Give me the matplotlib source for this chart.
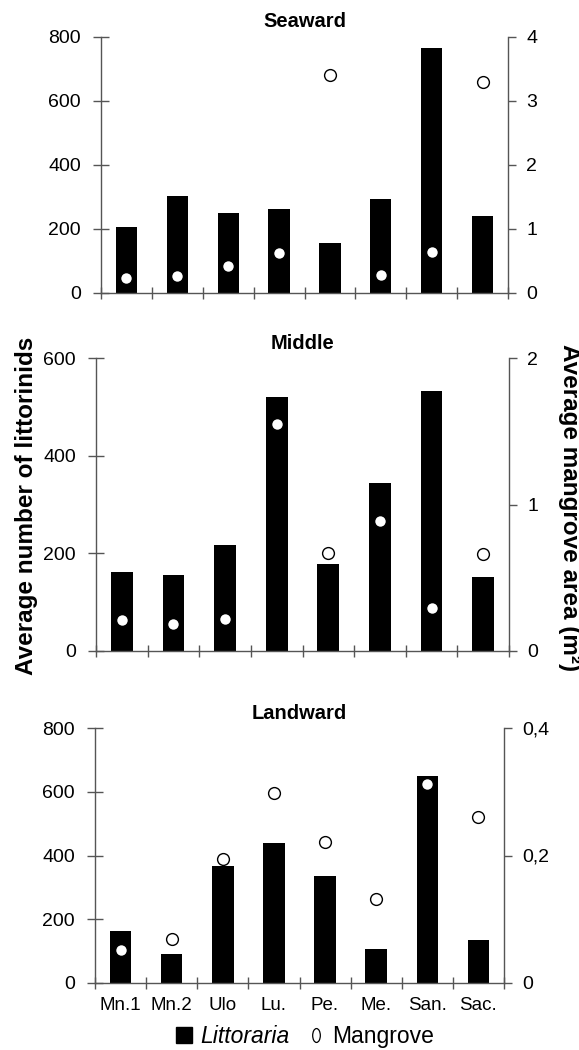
import numpy as np
import matplotlib
matplotlib.use("Agg")
import matplotlib.pyplot as plt
from matplotlib.patches import Patch
from matplotlib.lines import Line2D
from matplotlib.path import Path
from matplotlib.transforms import Affine2D

plt.rcParams['font.family'] = ['Liberation Sans', 'DejaVu Sans']

sites = ["Mn.1", "Mn.2", "Ulo", "Lu.", "Pe.", "Me.", "San.", "Sac."]

# littorinid counts (left axis) and mangrove area (right axis)
seaward_snails = [207, 304, 251, 263, 157, 293, 765, 239]
seaward_area = [0.24, 0.26, 0.42, 0.62, 3.41, 0.28, 0.64, 3.29]
middle_snails = [161, 156, 217, 521, 177, 344, 533, 151]
middle_area = [0.21, 0.18, 0.22, 1.55, 0.67, 0.89, 0.29, 0.66]
landward_snails = [164, 89, 367, 439, 336, 105, 650, 135]
landward_area = [0.052, 0.069, 0.195, 0.298, 0.222, 0.131, 0.313, 0.260]

panel_titles = ["Seaward", "Middle", "Landward"]
left_ticks = [[0, 200, 400, 600, 800], [0, 200, 400, 600], [0, 200, 400, 600, 800]]
right_ticks = [[0, 1, 2, 3, 4], [0, 1, 2], [0, 0.2, 0.4]]
right_labels = [["0", "1", "2", "3", "4"], ["0", "1", "2"], ["0", "0,2", "0,4"]]

W, H = 579, 1050
fig = plt.figure(figsize=(W / 100, H / 100), dpi=100)

# axes boxes in pixels: left, right, top, bottom
boxes = [(101, 508, 36.7, 293), (96, 509, 358.3, 650.7), (95, 504, 728.3, 982.7)]
snails = [seaward_snails, middle_snails, landward_snails]
areas = [seaward_area, middle_area, landward_area]

axcol = "#555555"
x = np.arange(len(sites))

for i in range(3):
    l, r, t, b = boxes[i]
    ax = fig.add_axes([l / W, 1 - b / H, (r - l) / W, (b - t) / H])
    ax.bar(x, snails[i], width=0.42, color="black", zorder=2)
    ax.set_xlim(-0.5, len(sites) - 0.5)
    ax.set_ylim(left_ticks[i][0], left_ticks[i][-1])
    ax.set_yticks(left_ticks[i])
    ax.set_title(panel_titles[i], fontsize=14.5, fontweight="bold", pad=7)

    ax.set_xticks(np.arange(-0.5, len(sites), 1))
    ax.set_xticklabels([])
    ax.set_xticks(x, minor=True)
    if i == 2:
        ax.set_xticklabels(sites, minor=True, fontsize=13.5)
    ax.tick_params(axis="x", which="major", direction="inout", length=9,
                   width=1, color=axcol)
    ax.tick_params(axis="x", which="minor", length=0, pad=10)
    ax.tick_params(axis="y", direction="inout", length=11, width=1,
                   color=axcol, labelsize=14, pad=9)
    for s in ["top", "right"]:
        ax.spines[s].set_visible(False)
    for s in ["left", "bottom"]:
        ax.spines[s].set_color(axcol)
        ax.spines[s].set_linewidth(1)

    ax2 = ax.twinx()
    ax2.plot(x, areas[i], linestyle="none", marker="o", markersize=8.5,
             markerfacecolor="white", markeredgecolor="black",
             markeredgewidth=1.0, zorder=3)
    ax2.set_ylim(right_ticks[i][0], right_ticks[i][-1])
    ax2.set_yticks(right_ticks[i])
    ax2.set_yticklabels(right_labels[i])
    ax2.tick_params(axis="y", direction="out", length=6, width=1,
                    color=axcol, labelsize=14, pad=7)
    for s in ["top", "left", "bottom"]:
        ax2.spines[s].set_visible(False)
    ax2.spines["right"].set_color(axcol)
    ax2.spines["right"].set_linewidth(1)

fig.text(27 / W, 1 - 506 / H, "Average number of littorinids", rotation=90,
         ha="center", va="center", fontsize=17.5, fontweight="bold")
fig.text(569 / W, 1 - 508 / H, "Average mangrove area (m²)", rotation=-90,
         ha="center", va="center", fontsize=17.5, fontweight="bold")

handles = [Patch(facecolor="black", edgecolor="black"),
           Line2D([], [], linestyle="none", marker=Path.unit_circle().transformed(Affine2D().scale(0.55, 1.0)),
                  markersize=10, markerfacecolor="white", markeredgecolor="black",
                  markeredgewidth=0.9)]
leg = fig.legend(handles, ["Littoraria", "Mangrove"], loc="center",
                 bbox_to_anchor=(305 / W, 1 - 1036.7 / H), ncol=2, frameon=False,
                 fontsize=16.5, handlelength=0.7, handleheight=0.7,
                 handletextpad=0.35, columnspacing=0.8, borderpad=0)
leg.get_texts()[0].set_style("italic")

fig.savefig("out.png", dpi=100)
